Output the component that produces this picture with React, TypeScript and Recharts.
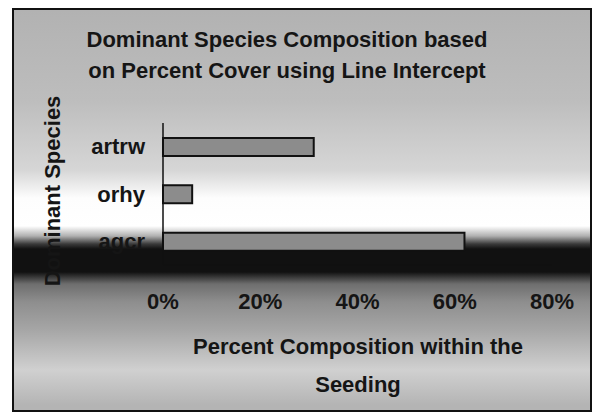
import { BarChart, Bar, XAxis, YAxis } from 'recharts';

const species = ['artrw', 'orhy', 'agcr'];
const percentCover = [31, 6, 62];
const xTicks = [0, 20, 40, 60, 80];

const data = species.map((name, i) => ({ name, value: percentCover[i] }));

const font = '"Liberation Sans", Arial, sans-serif';

export default function App() {
  return (
    <div style={{ position: 'absolute', left: 0, top: 0, width: 599, height: 416, background: '#fff', fontFamily: font }}>
      <div
        style={{
          position: 'absolute',
          left: 12,
          top: 8,
          width: 580,
          height: 404,
          boxSizing: 'border-box',
          border: '2px solid #111',
          background:
            'linear-gradient(to bottom, #b2b2b2 0px, #bdbdbd 90px, #d6d6d6 160px, #fdfdfd 188px, #ffffff 216px, #b0b0b0 226px, #3a3a3a 234px, #111 239px, #111 262px, #6e6e6e 274px, #8e8e8e 292px, #a6a6a6 320px, #d0d0d0 360px, #b4b4b4 395px)',
        }}
      />
      <div style={{ position: 'absolute', left: 0, top: 24, width: 574, textAlign: 'center', fontSize: 22, fontWeight: 'bold', lineHeight: '31px', color: '#151515' }}>
        Dominant Species Composition based
        <br />
        on Percent Cover using Line Intercept
      </div>
      <div
        style={{
          position: 'absolute',
          left: 53 - 110,
          top: 191 - 13,
          width: 220,
          height: 26,
          lineHeight: '26px',
          textAlign: 'center',
          fontSize: 22,
          fontWeight: 'bold',
          color: '#151515',
          transform: 'rotate(-90deg)',
        }}
      >
        Dominant Species
      </div>
      <div style={{ position: 'absolute', left: 158, top: 328, width: 400, textAlign: 'center', fontSize: 22, fontWeight: 'bold', lineHeight: '38px', color: '#151515' }}>
        Percent Composition within the
        <br />
        Seeding
      </div>
      <div style={{ position: 'absolute', left: 0, top: 0 }}>
        <BarChart
          width={599}
          height={416}
          data={data}
          layout="vertical"
          margin={{ top: 123, right: 47, bottom: 111, left: 0 }}
          barCategoryGap={0}
        >
          <XAxis
            type="number"
            domain={[0, 80]}
            ticks={xTicks}
            tickFormatter={(v: number) => `${v}%`}
            height={40}
            tickSize={0}
            tickMargin={28}
            axisLine={{ stroke: '#111' }}
            tick={{ fontSize: 22, fontWeight: 'bold', fill: '#151515', fontFamily: font }}
          />
          <YAxis
            type="category"
            dataKey="name"
            width={163}
            tickSize={0}
            tickMargin={18}
            axisLine={{ stroke: '#111', strokeWidth: 1.5 }}
            tick={{ fontSize: 22, fontWeight: 'bold', fill: '#151515', fontFamily: font }}
          />
          <Bar dataKey="value" barSize={18} fill="#8c8c8c" stroke="#111" strokeWidth={2} isAnimationActive={false} />
        </BarChart>
      </div>
    </div>
  );
}
